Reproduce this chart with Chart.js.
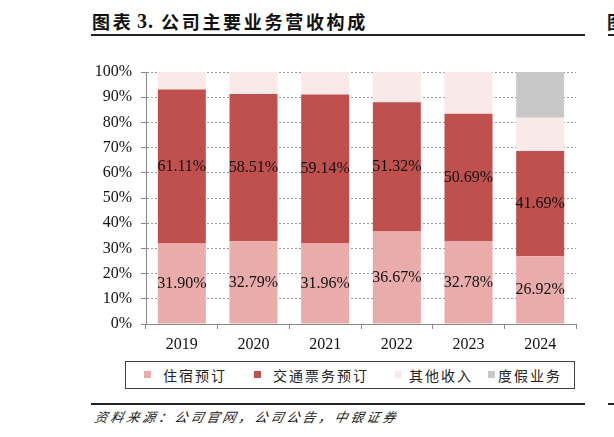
<!DOCTYPE html>
<html>
<head>
<meta charset="utf-8">
<script src="https://cdn.jsdelivr.net/npm/chart.js@4"></script>
<style>
  body { margin: 0; width: 614px; height: 437px; background: #fff; position: relative; overflow: hidden; }
  .title { position: absolute; top: 9px; font: bold 18px "Noto Sans CJK SC", sans-serif; letter-spacing: 2.7px; color: #111; white-space: nowrap; line-height: 24px; }
  .title.num { font-family: "Liberation Serif", serif; font-size: 20px; letter-spacing: 1px; }
  .rule { position: absolute; height: 2px; background: #222; }
  .source { position: absolute; left: 93px; top: 408px; font: italic 13px "Noto Sans CJK SC", sans-serif; letter-spacing: 3px; color: #222; white-space: nowrap; transform: skewX(-12deg); transform-origin: left bottom; line-height: 18px; }
  #chartBox { position: absolute; left: 0; top: 50px; width: 614px; height: 310px; }
  .legend { position: absolute; left: 125px; top: 361px; width: 448px; height: 26px; border: 1px solid #404040; }
  .legend .sw { position: absolute; top: 9px; width: 7px; height: 7px; }
  .legend .lb { position: absolute; top: 3px; font: 14px "Noto Sans CJK SC", sans-serif; letter-spacing: 2px; color: #222; white-space: nowrap; line-height: 20px; }
  .edge { position: absolute; left: 607px; top: 9px; font: bold 18px "Noto Sans CJK SC", sans-serif; color: #111; line-height: 24px; }
</style>
</head>
<body>
<div class="title" style="left:92px;">图表</div>
<div class="title num" style="left:137px;">3.</div>
<div class="title" style="left:161px;">公司主要业务营收构成</div>
<div class="rule" style="left:91px; top:34px; width:494px;"></div>
<div class="rule" style="left:608px; top:34px; width:6px;"></div>
<div class="edge">图</div>
<div id="chartBox"><canvas id="toolChart" width="614" height="310"></canvas></div>
<div class="legend" id="legend"></div>
<div class="rule" style="left:91px; top:403px; width:494px;"></div>
<div class="rule" style="left:608px; top:403px; width:6px;"></div>
<div class="source">资料来源：公司官网，公司公告，中银证券</div>
<script>
// ==================== 营收构成 stacked bars ====================

const years = ['2019', '2020', '2021', '2022', '2023', '2024'];
const yTicks = [0, 10, 20, 30, 40, 50, 60, 70, 80, 90, 100];

const seriesNames = ['住宿预订', '交通票务预订', '其他收入', '度假业务'];
const hotelShare = [31.90, 32.79, 31.96, 36.67, 32.78, 26.92];
const trafficShare = [61.11, 58.51, 59.14, 51.32, 50.69, 41.69];
const otherShare = [6.99, 8.70, 8.90, 12.01, 16.53, 13.19];
const holidayShare = [0, 0, 0, 0, 0, 18.20];

const seriesColors = ['#E9ACAB', '#C0504D', '#F9E9E9', '#C8C8C8'];
const labelled = [true, true, false, false];

const serif = '"Liberation Serif", "Times New Roman", serif';

const barLabels = {
  id: 'barLabels',
  afterDatasetsDraw(chart) {
    const ctx = chart.ctx;
    ctx.save();
    ctx.font = '16px ' + serif;
    ctx.fillStyle = '#111';
    ctx.textAlign = 'center';
    ctx.textBaseline = 'middle';
    chart.data.datasets.forEach((ds, i) => {
      if (!labelled[i]) return;
      chart.getDatasetMeta(i).data.forEach((bar, j) => {
        const v = ds.data[j];
        if (!v) return;
        const mid = (bar.y + bar.base) / 2;
        ctx.fillText(v.toFixed(2) + '%', bar.x, mid);
      });
    });
    ctx.restore();
  }
};

function buildLegend() {
  const box = document.getElementById('legend');
  const swatchX = [18, 128, 269, 362];
  const textX = [37, 147, 283, 372];
  box.innerHTML = seriesNames.map((n, i) =>
    `<div class="sw" style="left:${swatchX[i]}px;background:${seriesColors[i]}"></div>` +
    `<div class="lb" style="left:${textX[i]}px">${n}</div>`).join('');
}

function renderChart() {
  const ctx = document.getElementById('toolChart').getContext('2d');
  const values = [hotelShare, trafficShare, otherShare, holidayShare];
  new Chart(ctx, {
    type: 'bar',
    data: {
      labels: years,
      datasets: seriesNames.map((n, i) => ({
        label: n,
        data: values[i],
        backgroundColor: seriesColors[i],
        borderWidth: 0,
        categoryPercentage: 1,
        barPercentage: 0.67
      }))
    },
    options: {
      responsive: false,
      maintainAspectRatio: false,
      animation: false,
      layout: { padding: { top: 22, right: 38, left: 0, bottom: 0 } },
      plugins: { legend: { display: false }, tooltip: { enabled: false } },
      scales: {
        x: {
          stacked: true,
          grid: { display: true, drawOnChartArea: false, drawTicks: true, tickLength: 5, color: '#888', tickColor: '#888' },
          border: { display: true, color: '#888', width: 1 },
          ticks: { color: '#111', font: { family: serif, size: 16 }, padding: 6 },
          afterFit: s => { s.height = 36; }
        },
        y: {
          stacked: true,
          min: 0,
          max: 100,
          afterBuildTicks: s => { s.ticks = yTicks.map(v => ({ value: v })); },
          grid: { color: '#9a9a9a', tickColor: '#888', tickLength: 5, tickBorderDash: [] },
          border: { display: true, color: '#888', width: 1, dash: [2, 2] },
          ticks: { color: '#111', font: { family: serif, size: 16 }, padding: 9, callback: v => v + '%' },
          afterFit: s => { s.width = 146; }
        }
      }
    },
    plugins: [barLabels]
  });
}

buildLegend();
renderChart();
</script>
</body>
</html>
